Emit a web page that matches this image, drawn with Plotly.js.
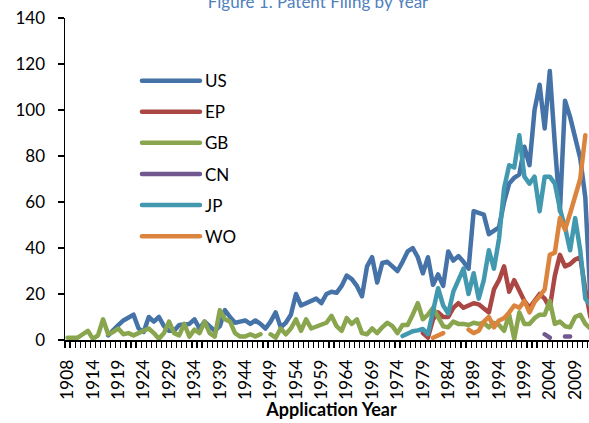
<!DOCTYPE html>
<html>
<head>
<meta charset="utf-8">
<script src="https://cdn.plot.ly/plotly-3.0.1.min.js"></script>
<style>
  html, body { margin: 0; padding: 0; overflow: hidden; width: 589px; height: 423px; background: #fff; }
  #chart { position: absolute; left: 0; top: -20px; width: 620px; height: 440px; }
  #chart .js-line { stroke-linecap: round; stroke-linejoin: round; }
</style>
</head>
<body>
<div id="chart"></div>
<script>
// application years (1909 has no entry in the source table)
const years = [
  1908, 1910, 1911, 1912, 1913, 1914, 1915, 1916, 1917, 1918,
  1919, 1920, 1921, 1922, 1923, 1924, 1925, 1926, 1927, 1928,
  1929, 1930, 1931, 1932, 1933, 1934, 1935, 1936, 1937, 1938,
  1939, 1940, 1941, 1942, 1943, 1944, 1945, 1946, 1947, 1948,
  1949, 1950, 1951, 1952, 1953, 1954, 1955, 1956, 1957, 1958,
  1959, 1960, 1961, 1962, 1963, 1964, 1965, 1966, 1967, 1968,
  1969, 1970, 1971, 1972, 1973, 1974, 1975, 1976, 1977, 1978,
  1979, 1980, 1981, 1982, 1983, 1984, 1985, 1986, 1987, 1988,
  1989, 1990, 1991, 1992, 1993, 1994, 1995, 1996, 1997, 1998,
  1999, 2000, 2001, 2002, 2003, 2004, 2005, 2006, 2007, 2008,
  2009, 2010, 2011, 2012
];

const us = [
  null, null, null, null, null, null, null, null, 2, 4.5,
  6.5, 8.5, 9.5, 11, 5, 3.5, 10, 8, 10, 6,
  4, 4, 6.5, 7, 7, 9, 5, 8, 6, 4,
  6, 13, 10, 7.5, 8, 8.5, 7, 8.5, 7, 5,
  8, 12, 5.5, 7.5, 11, 20, 15, 16, 17, 18,
  16, 20, 21, 20.5, 23.5, 28, 26.5, 23.5, 19, 32,
  36, 25, 33.5, 34, 32, 30, 34, 38.5, 40, 36,
  29, 36, 24, 28.5, 23.5, 38.5, 34.5, 36.5, 34, 31,
  56, 55, 54.5, 46, 47.5, 49, 60, 68, 70.5, 72,
  84, 76, 100, 111, 92, 117, 85, 56, 104, 97,
  88, 79, 62, 18
];

const ep = [
  null, null, null, null, null, null, null, null, null, null,
  null, null, null, null, null, null, null, null, null, null,
  null, null, null, null, null, null, null, null, null, null,
  null, null, null, null, null, null, null, null, null, null,
  null, null, null, null, null, null, null, null, null, null,
  null, null, null, null, null, null, null, null, null, null,
  null, null, null, null, null, null, null, null, null, null,
  3, 1, 9, 12, 10, 10, 14, 16, 14, 15,
  16, 15.5, 14, 12, 22, 26, 32, 21, 26, 21,
  17, 14, 17, 20, 18, 14, 28, 37, 32, 33,
  35, 36, 22, 10
];

const gb = [
  1, 1, 1, 2.5, 4, 0.5, 2, 9, 2.5, 3.5,
  5, 2.5, 3, 2, 3, 4, 5, 3, 0.5, 3,
  8, 3, 2, 7, 1.5, 4.5, 3, 8, 3, 1.5,
  13, 9, 8, 3, 1.5, 1.5, 2.5, 1.5, 2.5, null,
  2.5, 1, 5, 2.5, 5, 9, 4, 9, 5, 6,
  7, 7.5, 10.5, 6, 4, 9.5, 7, 9, 3, 2.5,
  5, 3, 5.5, 7.5, 6, 3, 6.5, 6.5, 11, 16,
  9, 11, 14, 10, 6, 5.5, 8, 7, 7, 6.5,
  7.5, 7, 7.5, 5.5, 7.5, 6.5, 4, 11, 0.5, 12,
  7, 7, 9.5, 11, 11, 17, 7, 8, 6, 5.5,
  10, 11, 7, 5
];

const cn = [
  null, null, null, null, null, null, null, null, null, null,
  null, null, null, null, null, null, null, null, null, null,
  null, null, null, null, null, null, null, null, null, null,
  null, null, null, null, null, null, null, null, null, null,
  null, null, null, null, null, null, null, null, null, null,
  null, null, null, null, null, null, null, null, null, null,
  null, null, null, null, null, null, null, null, null, null,
  null, null, null, null, null, null, null, null, null, null,
  null, null, null, null, null, null, null, null, null, null,
  null, null, null, null, 2.5, 1, null, null, 1.5, 1.5,
  null, null, null, null
];

const jp = [
  null, null, null, null, null, null, null, null, null, null,
  null, null, null, null, null, null, null, null, null, null,
  null, null, null, null, null, null, null, null, null, null,
  null, null, null, null, null, null, null, null, null, null,
  null, null, null, null, null, null, null, null, null, null,
  null, null, null, null, null, null, null, null, null, null,
  null, null, null, null, null, null, 1.7, 3, 3.8, 4.2,
  4.8, 2.5, 12.5, 22.5, 15, 11.5, 21, 26, 31, 20,
  29, 18, 26, 39, 31, 44, 66, 76, 75, 89,
  71, 68, 71, 56, 71, 71, 68, 57, 49, 39,
  53, 39, 18, 15
];

const wo = [
  null, null, null, null, null, null, null, null, null, null,
  null, null, null, null, null, null, null, null, null, null,
  null, null, null, null, null, null, null, null, null, null,
  null, null, null, null, null, null, null, null, null, null,
  null, null, null, null, null, null, null, null, null, null,
  null, null, null, null, null, null, null, null, null, null,
  null, null, null, null, null, null, null, null, null, null,
  null, null, 1, 2, 3, null, null, null, null, 4.5,
  3, 4, 8, 10, 5.5, 8.5, 9.5, 12, 15, 14,
  17, 12, 16.5, 19, 22, 37, 38, 53, 48, 55,
  62, 70, 89, null
];

const seriesNames = ['US', 'EP', 'GB', 'CN', 'JP', 'WO'];
const seriesValues = [us, ep, gb, cn, jp, wo];
const seriesColors = ['#4572A7', '#AA4643', '#89A54E', '#71588F', '#4198AF', '#DB843D'];

// category positions, labels on every 5th category like the source chart
const pos = years.map((y, i) => i);
const labelPos = pos.filter(i => i % 5 === 0);
const labelText = labelPos.map(i => String(years[i]));

const traces = seriesNames.map((name, k) => ({
    x: pos,
    y: seriesValues[k],
    name: name,
    legendgroup: name,
    type: 'scatter',
    mode: 'lines',
    connectgaps: false,
    line: { color: seriesColors[k], width: 4.5 },
    hoverinfo: 'skip'
}));

const layout = {
    width: 620,
    height: 440,
    margin: { l: 65, r: 21.6, t: 38, b: 80 },
    paper_bgcolor: '#fff',
    plot_bgcolor: '#fff',
    font: { family: 'Lato, sans-serif', color: '#000' },
    title: {
        text: 'Figure 1. Patent Filing by Year',
        font: { size: 17, color: '#4F81BD' },
        xref: 'container', x: 318 / 620, xanchor: 'center',
        yref: 'container', y: 1 - 16 / 440, yanchor: 'top'
    },
    xaxis: {
        range: [-0.5, 104.5],
        tickmode: 'array',
        tickvals: labelPos,
        ticktext: labelText,
        tickangle: -90,
        ticks: 'outside', ticklen: 6, tickcolor: 'rgba(0,0,0,0)',
        ticklabelstandoff: 5,
        tickfont: { size: 17.5 },
        showline: true, linecolor: '#000', linewidth: 1.5,
        showgrid: false, zeroline: false,
        minor: { tick0: -0.5, dtick: 1, ticks: 'outside', ticklen: 6, tickcolor: '#000', tickwidth: 1.2, showgrid: false },
        title: { text: 'Application Year', font: { size: 18, weight: 'bold' }, standoff: 14 }
    },
    yaxis: {
        range: [0, 140],
        dtick: 20,
        ticks: 'outside', ticklen: 6, tickcolor: '#000', tickwidth: 1.5,
        ticklabelstandoff: 9,
        tickfont: { size: 17 },
        showline: true, linecolor: '#000', linewidth: 1.5,
        showgrid: false, zeroline: false
    },
    legend: {
        x: 0.135, xanchor: 'left',
        y: 0.86, yanchor: 'top',
        bgcolor: 'rgba(0,0,0,0)',
        font: { size: 17 },
        itemwidth: 58,
        traceorder: 'grouped',
        tracegroupgap: 6
    },
    showlegend: true
};

Plotly.newPlot('chart', traces, layout, { staticPlot: true, displayModeBar: false });
</script>
</body>
</html>
